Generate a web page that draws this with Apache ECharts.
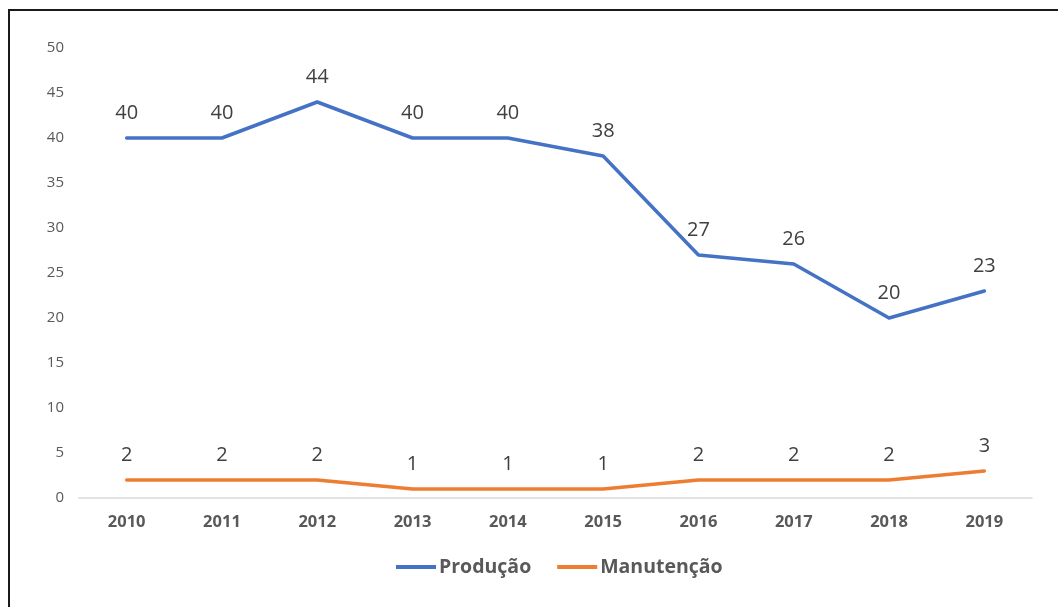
<!DOCTYPE html>
<html>
<head>
<meta charset="utf-8">
<script src="https://cdn.jsdelivr.net/npm/echarts@6/dist/echarts.min.js"></script>
<style>
html,body{margin:0;padding:0;background:#fff;overflow:hidden;}
#chart{position:absolute;left:0;top:0;width:1058px;height:607px;}
#frame{position:absolute;left:8px;top:9px;width:1200px;height:800px;border-left:2px solid #1a1a1a;border-top:2px solid #1a1a1a;pointer-events:none;}
</style>
</head>
<body>
<div id="chart"></div>
<div id="frame"></div>
<script>
const categories = ['2010','2011','2012','2013','2014','2015','2016','2017','2018','2019'];
const producao = [40, 40, 44, 40, 40, 38, 27, 26, 20, 23];
const manutencao = [2, 2, 2, 1, 1, 1, 2, 2, 2, 3];
const seriesNames = ['Produção', 'Manutenção'];

const chart = echarts.init(document.getElementById('chart'), null, {renderer:'canvas'});
const font = '"Open Sans", "Noto Sans", sans-serif';
const labelCfg = {show:true, position:'top', distance:15, fontSize:20, color:'#404040', fontFamily:font};
chart.setOption({
  animation:false,
  backgroundColor:'#fff',
  grid:{left:79, right:26, top:48, bottom:109},
  legend:{
    left:391, bottom:25,
    icon:'rect', itemWidth:40, itemHeight:4, itemGap:26,
    textStyle:{fontSize:19.5, fontWeight:'bold', color:'#595959', fontFamily:font, padding:[0,0,0,-2]},
    data:seriesNames
  },
  xAxis:{
    type:'category', data:categories, boundaryGap:true,
    axisLine:{lineStyle:{color:'#d9d9d9', width:1.5}},
    axisTick:{show:false},
    axisLabel:{fontSize:16.5, fontWeight:'bold', color:'#595959', margin:16, fontFamily:font}
  },
  yAxis:{
    type:'value', min:0, max:50, interval:5,
    axisLine:{show:false}, axisTick:{show:false},
    splitLine:{show:false},
    axisLabel:{fontSize:15, color:'#595959', margin:15, fontFamily:font}
  },
  series:[
    {name:seriesNames[0], type:'line', data:producao, symbol:'circle', symbolSize:0.1,
     lineStyle:{color:'#4472C4', width:3.5, join:'round', cap:'round'}, itemStyle:{color:'#4472C4'}, label:labelCfg},
    {name:seriesNames[1], type:'line', data:manutencao, symbol:'circle', symbolSize:0.1,
     lineStyle:{color:'#ED7D31', width:3.5, join:'round', cap:'round'}, itemStyle:{color:'#ED7D31'}, label:labelCfg}
  ]
});
</script>
</body>
</html>
